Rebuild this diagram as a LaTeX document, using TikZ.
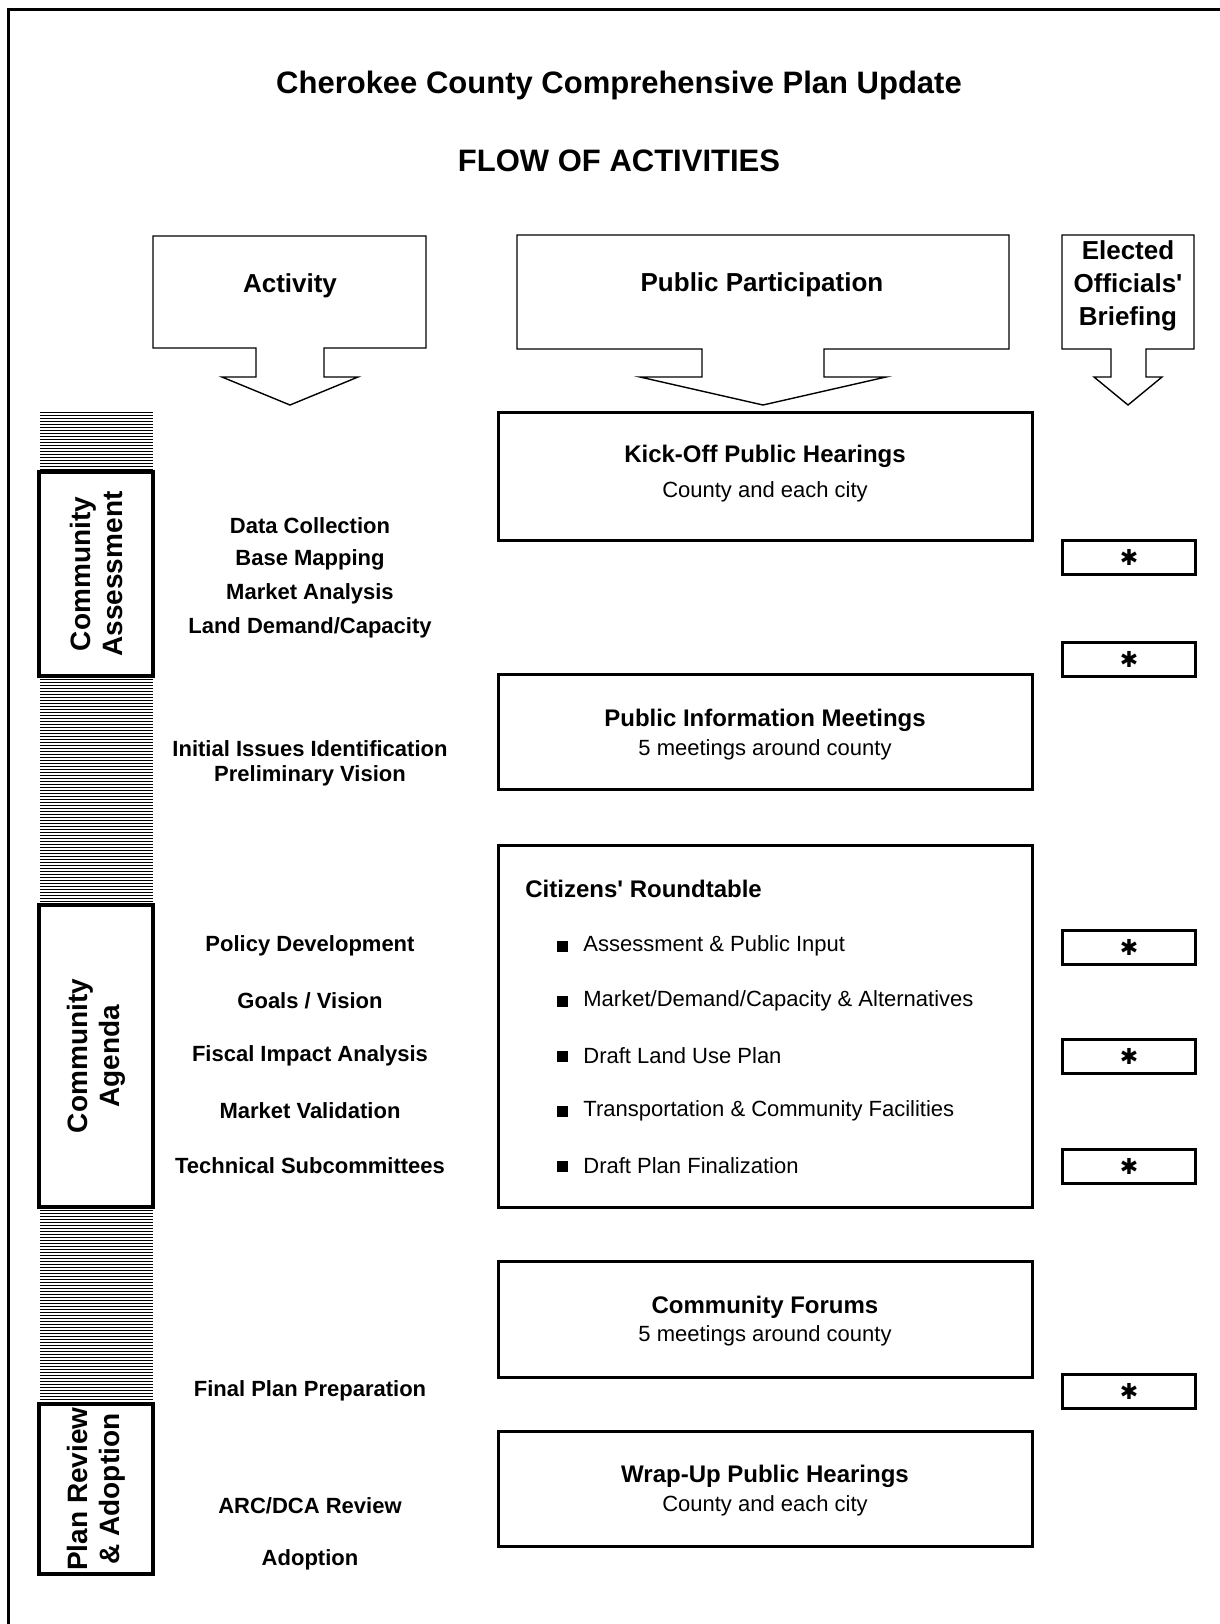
\documentclass[tikz,border=0pt]{standalone}
\usepackage{fontspec}
\setmainfont{Liberation Sans}
\newfontfamily\symfont{DejaVu Sans}

\begin{document}
\begin{tikzpicture}
	[x=0.5pt,y=-0.5pt,every node/.style={inner sep=0pt, font=\bfseries}]
	\tikzstyle{panel} = [draw, line width=1.5pt, fill=white, minimum width=267pt];
	\tikzstyle{phase} = [draw, line width=2pt, fill=white, minimum width=57pt];
	\tikzstyle{brief} = [draw, line width=1.5pt, minimum width=66.5pt, minimum height=17pt, font=\fontsize{11}{11}\selectfont\symfont\bfseries];
	\tikzstyle{heading} = [line width=0.7pt];
	\tikzstyle{big} = [font=\fontsize{15.5}{18}\selectfont\bfseries];
	\tikzstyle{head} = [font=\fontsize{13}{16.5}\selectfont\bfseries, align=center];
	\tikzstyle{ptitle} = [font=\fontsize{12}{14}\selectfont\bfseries];
	\tikzstyle{sub} = [font=\fontsize{11}{13}\selectfont];
	\tikzstyle{item} = [font=\fontsize{11}{13}\selectfont\bfseries];
	\tikzstyle{side} = [rotate=90, align=center, font=\fontsize{14}{16}\selectfont\bfseries];
	\tikzstyle{dot} = [fill=black, minimum size=5.5pt];

	\useasboundingbox (0,0) rectangle (1220,1624);
	\clip (0,0) rectangle (1220,1624);
	\draw[line width=1.5pt] (8,9) rectangle (1240,1650);

	% titles
	\node[big] (title) at (619,85) {Cherokee County Comprehensive Plan Update};
	\node[big] (flow) at (619,161) {FLOW OF ACTIVITIES};

	% column heads
	\draw[heading] (153,236) -- (426,236) -- (426,348) -- (324,348) -- (324,377) -- (358,377)
		-- (290,405) -- (222,377) -- (256,377) -- (256,348) -- (153,348) -- cycle;
	\draw[heading] (517,235) -- (1009,235) -- (1009,349) -- (824,349) -- (824,377) -- (886,377)
		-- (763,405) -- (640,377) -- (702,377) -- (702,349) -- (517,349) -- cycle;
	\draw[heading] (1062,235) -- (1194,235) -- (1194,349) -- (1146,349) -- (1146,377) -- (1162,377)
		-- (1128,405) -- (1094,377) -- (1111,377) -- (1111,349) -- (1062,349) -- cycle;
	\node[head] (hact) at (290,286) {Activity};
	\node[head] (hpub) at (762,285) {Public Participation};
	\node[head] (hbrief) at (1128,286) {Elected\\Officials\textquotesingle\\Briefing};

	% phase bar
	\foreach \y in {412,415,...,1403}
		\draw[line width=0.35pt] (40,\y) -- (153,\y);
	\node[phase, minimum height=102pt] (assess) at (96,574) {};
	\node[phase, minimum height=151pt] (agenda) at (96,1056) {};
	\node[phase, minimum height=85pt] (review) at (96,1489) {};
	\node[side] (lassess) at (assess) {Community\\Assessment};
	\node[side] (lagenda) at (agenda) {Community\\Agenda};
	\node[side] (lreview) at (review) {Plan Review\\\& Adoption};

	% activities
	\node[item] (a1) at (310,526) {Data Collection};
	\node[item] (a2) at (310,560) {Base Mapping};
	\node[item] (a3) at (310,594) {Market Analysis};
	\node[item] (a4) at (310,628) {Land Demand/Capacity};
	\node[item] (a5) at (310,749) {Initial Issues Identification};
	\node[item] (a6) at (310,776) {Preliminary Vision};
	\node[item] (a7) at (310,946) {Policy Development};
	\node[item] (a8) at (310,1001) {Goals / Vision};
	\node[item] (a9) at (310,1056) {Fiscal Impact Analysis};
	\node[item] (a10) at (310,1111) {Market Validation};
	\node[item] (a11) at (310,1166) {Technical Subcommittees};
	\node[item] (a12) at (310,1391) {Final Plan Preparation};
	\node[item] (a13) at (310,1506) {ARC/DCA Review};
	\node[item] (a14) at (310,1560) {Adoption};

	% public participation
	\node[panel, minimum height=64pt] (kick) at (765,476) {};
	\node[ptitle] (kick1) at (765,456) {Kick-Off Public Hearings};
	\node[sub] (kick2) at (765,492) {County and each city};

	\node[panel, minimum height=57.5pt] (info) at (765,732) {};
	\node[ptitle] (info1) at (765,720) {Public Information Meetings};
	\node[sub] (info2) at (765,750) {5 meetings around county};

	\node[panel, minimum height=181pt] (round) at (765,1026) {};
	\node[ptitle, anchor=west] (round0) at (525,889) {Citizens\textquotesingle{} Roundtable};
	\node[dot] (b1) at (562,946) {};
	\node[dot] (b2) at (562,1001) {};
	\node[dot] (b3) at (562,1056) {};
	\node[dot] (b4) at (562,1111) {};
	\node[dot] (b5) at (562,1166) {};
	\node[sub, anchor=west] (r1) at (583,946) {Assessment \& Public Input};
	\node[sub, anchor=west] (r2) at (583,1001) {Market/Demand/Capacity \& Alternatives};
	\node[sub, anchor=west] (r3) at (583,1056) {Draft Land Use Plan};
	\node[sub, anchor=west] (r4) at (583,1111) {Transportation \& Community Facilities};
	\node[sub, anchor=west] (r5) at (583,1166) {Draft Plan Finalization};

	\node[panel, minimum height=58pt] (forum) at (765,1319) {};
	\node[ptitle] (forum1) at (765,1307) {Community Forums};
	\node[sub] (forum2) at (765,1336) {5 meetings around county};

	\node[panel, minimum height=57.5pt] (wrap) at (765,1489) {};
	\node[ptitle] (wrap1) at (765,1476) {Wrap-Up Public Hearings};
	\node[sub] (wrap2) at (765,1506) {County and each city};

	% briefings
	\foreach \y [count=\i] in {557,659,947,1056,1166,1391}
		\node[brief] (star\i) at (1129,\y) {✱};
\end{tikzpicture}
\end{document}
